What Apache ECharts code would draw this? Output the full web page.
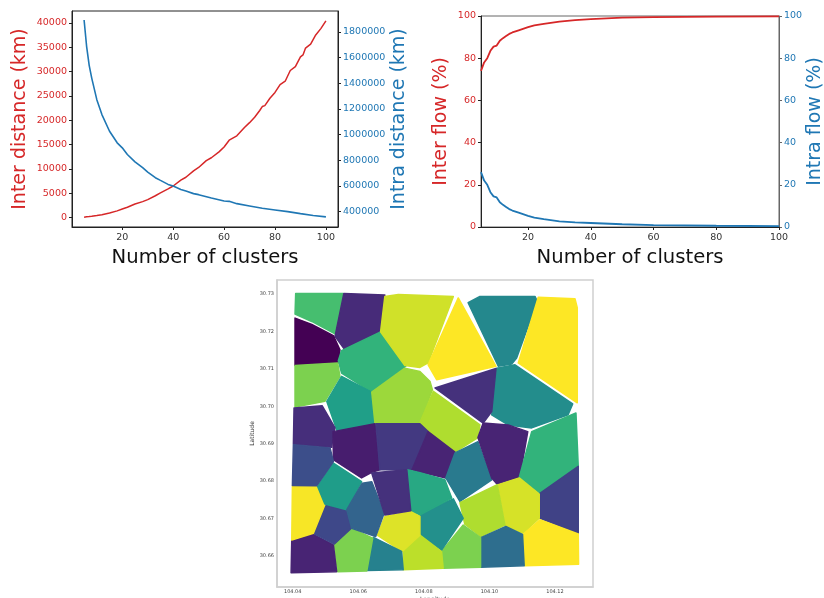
<!DOCTYPE html>
<html><head><meta charset="utf-8">
<script src="https://cdn.jsdelivr.net/npm/echarts@6/dist/echarts.min.js"></script>
<style>html,body{margin:0;padding:0;background:#fff}#c{width:824px;height:598px}</style></head>
<body><div id="c"></div>
<script>
const distClusters=[5,6,7,8,10,12,15,18,20,22,25,28,30,33,35,38,40,43,45,48,50,53,55,58,60,62,65,68,70,72,74,75,76,78,80,82,84,86,88,90,91,92,94,96,98,100];
const interDistance=[100,170,220,280,430,620,950,1400,1770,2130,2800,3300,3700,4500,5100,5900,6500,7700,8300,9600,10300,11700,12300,13500,14500,15900,16800,18500,19500,20600,22000,22800,23000,24500,25700,27300,28000,30200,31000,33000,33400,34800,35600,37500,38800,40400];
const intraClusters=[5,6,7,8,10,12,15,18,20,22,25,28,30,33,35,38,40,43,45,48,50,55,60,62,65,70,75,80,85,90,95,100];
const intraDistance=[1893000,1686000,1540000,1440000,1272000,1156000,1026000,936000,897000,845000,788000,742000,708000,664000,643000,612000,599000,573000,560000,540000,532000,506000,483000,480000,462000,444000,426000,413000,400000,384000,369000,359000];
const flowClusters=[5,6,7,8,9,10,11,12,13,14,15,17,20,22,25,30,35,40,50,60,80,100];
const interFlow=[74,78,80,83.5,85.5,86,88.3,89.5,90.5,91.5,92.2,93.2,94.7,95.6,96.3,97.3,98,98.5,99.2,99.5,99.7,99.8];
const intraFlow=[26,22,20,16.5,14.5,14,11.7,10.5,9.5,8.5,7.8,6.8,5.3,4.4,3.7,2.7,2.2,1.9,1.3,0.9,0.6,0.45];
const clusterTicks=[20,40,60,80,100];
const interDistanceTicks=[0,5000,10000,15000,20000,25000,30000,35000,40000];
const intraDistanceTicks=[400000,600000,800000,1000000,1200000,1400000,1600000,1800000];
const flowTicks=[0,20,40,60,80,100];
const lonTicks=[104.04,104.06,104.08,104.10,104.12];
const latTicks=[30.66,30.67,30.68,30.69,30.70,30.71,30.72,30.73];
const cellValues=[0.7,0.12,0,0.65,0.8,0.56,0.13,0.93,1,0.47,1,0.49,0.14,0.85,0.88,0.08,0.17,0.10,0.41,0.10,0.65,0.2,0.94,0.88,1,0.36,0.8,0.5,0.6,0.9,0.95,0.44,0.8,0.1,0.22,0.99,0.55,0.24,0.32,0.14];
const cellPolygons=[
[[104.0409,30.7302],[104.0554,30.7302],[104.0529,30.7194],[104.0458,30.7227],[104.0407,30.7247]],
[[104.0556,30.7302],[104.0681,30.7298],[104.0668,30.7199],[104.0559,30.7151],[104.0529,30.7187]],
[[104.0407,30.7236],[104.0458,30.7219],[104.0524,30.7189],[104.0544,30.7151],[104.0539,30.7116],[104.0407,30.7109]],
[[104.0668,30.7199],[104.0745,30.7107],[104.0641,30.7038],[104.0549,30.7089],[104.0539,30.7122],[104.0549,30.7149]],
[[104.0407,30.7109],[104.0537,30.7116],[104.0544,30.7080],[104.0498,30.7013],[104.0407,30.6998]],
[[104.0549,30.7080],[104.0641,30.7038],[104.0651,30.6950],[104.0539,30.6925],[104.0504,30.7013]],
[[104.0404,30.6995],[104.0490,30.7001],[104.0529,30.6942],[104.0521,30.6906],[104.0519,30.6890],[104.0402,30.6899]],
[[104.0681,30.7294],[104.0722,30.7299],[104.0890,30.7294],[104.0813,30.7116],[104.0788,30.7104],[104.0742,30.7109],[104.0668,30.7199]],
[[104.0905,30.7290],[104.1020,30.7107],[104.0839,30.7071],[104.0813,30.7111]],
[[104.0935,30.7277],[104.0971,30.7294],[104.1139,30.7294],[104.1146,30.7281],[104.1083,30.7129],[104.1068,30.7113],[104.1027,30.7107]],
[[104.1149,30.7292],[104.1261,30.7288],[104.1268,30.7264],[104.1268,30.7009],[104.1088,30.7116]],
[[104.1078,30.7111],[104.1254,30.7006],[104.1240,30.6977],[104.1129,30.6942],[104.1057,30.6950],[104.1007,30.6977],[104.1022,30.7102]],
[[104.0834,30.7049],[104.1020,30.7101],[104.1007,30.6986],[104.0981,30.6955]],
[[104.0641,30.7038],[104.0742,30.7102],[104.0788,30.7093],[104.0819,30.7066],[104.0826,30.7044],[104.0788,30.6955],[104.0651,30.6953]],
[[104.0829,30.7040],[104.0971,30.6950],[104.0965,30.6916],[104.0895,30.6877],[104.0813,30.6932],[104.0788,30.6956]],
[[104.0523,30.6932],[104.0651,30.6953],[104.0666,30.6830],[104.0641,30.6823],[104.0610,30.6808],[104.0524,30.6857]],
[[104.0654,30.6953],[104.0788,30.6953],[104.0813,30.6932],[104.0764,30.6830],[104.0666,30.6830]],
[[104.0813,30.6932],[104.0895,30.6877],[104.0867,30.6808],[104.0788,30.6824],[104.0764,30.6830]],
[[104.0895,30.6875],[104.0965,30.6905],[104.1007,30.6803],[104.0910,30.6745],[104.0867,30.6808]],
[[104.0981,30.6955],[104.1057,30.6950],[104.1117,30.6932],[104.1093,30.6811],[104.1023,30.6792],[104.1007,30.6808],[104.0965,30.6916]],
[[104.1129,30.6932],[104.1264,30.6982],[104.1271,30.6839],[104.1154,30.6767],[104.1091,30.6809]],
[[104.1271,30.6839],[104.1271,30.6660],[104.1154,30.6700],[104.1154,30.6767]],
[[104.1027,30.6790],[104.1091,30.6808],[104.1152,30.6765],[104.1152,30.6700],[104.1103,30.6660],[104.1050,30.6680]],
[[104.0910,30.6742],[104.1024,30.6790],[104.1047,30.6682],[104.0974,30.6651],[104.0925,30.6684]],
[[104.1154,30.6696],[104.1271,30.6658],[104.1272,30.6577],[104.1108,30.6573],[104.1103,30.6657]],
[[104.0974,30.6648],[104.1050,30.6678],[104.1101,30.6657],[104.1106,30.6573],[104.0973,30.6569]],
[[104.0854,30.6611],[104.0920,30.6682],[104.0973,30.6648],[104.0973,30.6569],[104.0859,30.6566]],
[[104.0788,30.6714],[104.0890,30.6752],[104.0920,30.6700],[104.0854,30.6615],[104.0788,30.6655]],
[[104.0749,30.6830],[104.0788,30.6822],[104.0864,30.6803],[104.0885,30.6754],[104.0788,30.6709],[104.0760,30.6718]],
[[104.0788,30.6655],[104.0854,30.6611],[104.0859,30.6566],[104.0737,30.6562],[104.0737,30.6611]],
[[104.0658,30.6655],[104.0681,30.6705],[104.0760,30.6718],[104.0788,30.6705],[104.0788,30.6655],[104.0734,30.6611]],
[[104.0646,30.6649],[104.0732,30.6611],[104.0737,30.6562],[104.0626,30.6560]],
[[104.0527,30.6629],[104.0580,30.6673],[104.0644,30.6647],[104.0626,30.6559],[104.0537,30.6557]],
[[104.0397,30.6642],[104.0463,30.6657],[104.0524,30.6629],[104.0534,30.6557],[104.0395,30.6554]],
[[104.0463,30.6660],[104.0496,30.6736],[104.0565,30.6723],[104.0578,30.6673],[104.0527,30.6631]],
[[104.0399,30.6787],[104.0476,30.6785],[104.0498,30.6736],[104.0463,30.6660],[104.0397,30.6642]],
[[104.0524,30.6848],[104.0610,30.6798],[104.0565,30.6723],[104.0498,30.6738],[104.0476,30.6785]],
[[104.0402,30.6897],[104.0514,30.6888],[104.0524,30.6852],[104.0473,30.6787],[104.0399,30.6788]],
[[104.0612,30.6794],[104.0641,30.6798],[104.0679,30.6714],[104.0653,30.6651],[104.0580,30.6673],[104.0565,30.6723]],
[[104.0641,30.6821],[104.0748,30.6830],[104.0760,30.6720],[104.0681,30.6709]]
];
const viridis=['#440154','#482878','#3e4989','#31688e','#26828e','#1f9e89','#35b779','#6ece58','#b5de2b','#fde725'];
const RED='#d62728',BLUE='#1f77b4',DARK='#333333';
const FONT='DejaVu Sans';
const zip=(a,b)=>a.map((v,i)=>[v,b[i]]);

function xAx(gridIndex,min,max,lineColor){return{
  type:'value',gridIndex,min,max,name:'Number of clusters',nameLocation:'middle',nameGap:21,
  nameTextStyle:{fontFamily:FONT,fontSize:19.6,color:'#111'},
  splitLine:{show:false},
  axisLine:{show:true,onZero:false,lineStyle:{color:lineColor,width:1}},
  axisTick:{show:true,length:3,customValues:clusterTicks,lineStyle:{color:lineColor}},
  axisLabel:{fontFamily:FONT,fontSize:9.5,color:DARK,margin:6,customValues:clusterTicks,formatter:v=>String(v)}
};}
function yAx(gridIndex,position,min,max,name,color,ticks,gap,lineColor){return{
  type:'value',gridIndex,position,min,max,name,nameLocation:'middle',nameGap:gap,
  nameTextStyle:{fontFamily:FONT,fontSize:19,color},
  splitLine:{show:false},
  axisLine:{show:true,onZero:false,lineStyle:{color:lineColor,width:1}},
  axisTick:{show:true,length:3,customValues:ticks,lineStyle:{color:lineColor}},
  axisLabel:{fontFamily:FONT,fontSize:9.5,color,margin:5,customValues:ticks,formatter:v=>String(v)}
};}
const line=(x,y,data,color,width)=>({type:'line',xAxisIndex:x,yAxisIndex:y,data,showSymbol:false,smooth:false,
  lineStyle:{color,width},itemStyle:{color},animation:false,silent:true});

const chart=echarts.init(document.getElementById('c'),null,{renderer:'canvas'});
chart.setOption({
  animation:false,backgroundColor:'#fff',
  grid:[
    {left:72,top:11,width:266,height:216,show:true,borderColor:'#222',borderWidth:1,outerBoundsMode:'none'},
    {left:481,top:16,width:298,height:211,show:true,borderColor:'#666',borderWidth:1,outerBoundsMode:'none'},
    {left:277,top:280,width:316,height:307,show:true,borderColor:'#cfcfcf',borderWidth:1.5,outerBoundsMode:'none'}
  ],
  xAxis:[
    xAx(0,0.25,104.75,'#222'),
    xAx(1,5,100,'#222'),
    {type:'value',gridIndex:2,min:104.0352,max:104.1316,name:'Longitude',nameLocation:'middle',nameGap:9,nameMoveOverlap:false,
     nameTextStyle:{fontFamily:FONT,fontSize:6,color:'#333'},splitLine:{show:false},
     axisLine:{show:true,onZero:false,lineStyle:{color:'#cfcfcf',width:1.5}},axisTick:{show:false},
     axisLabel:{fontFamily:FONT,fontSize:5,color:'#444',margin:2.5,customValues:lonTicks,formatter:v=>v.toFixed(2)}}
  ],
  yAxis:[
    yAx(0,'left',-1915,42415,'Inter distance (km)',RED,interDistanceTicks,42,'#222'),
    yAx(0,'right',280000,1963000,'Intra distance (km)',BLUE,intraDistanceTicks,51,'#222'),
    yAx(1,'left',0,100,'Inter flow (%)',RED,flowTicks,30,'#222'),
    yAx(1,'right',0,100,'Intra flow (%)',BLUE,flowTicks,26,'#666'),
    {type:'value',gridIndex:2,position:'left',min:30.6516,max:30.7338,name:'Latitude',nameLocation:'middle',nameGap:19,
     nameTextStyle:{fontFamily:FONT,fontSize:6,color:'#333'},splitLine:{show:false},
     axisLine:{show:true,onZero:false,lineStyle:{color:'#cfcfcf',width:1.5}},axisTick:{show:false},
     axisLabel:{fontFamily:FONT,fontSize:5,color:'#444',margin:3,customValues:latTicks,formatter:v=>v.toFixed(2)}}
  ],
  visualMap:{show:false,type:'continuous',seriesIndex:4,dimension:1,min:0,max:1,inRange:{color:viridis}},
  series:[
    line(0,0,zip(distClusters,interDistance),RED,1.5),
    line(0,1,zip(intraClusters,intraDistance),BLUE,1.6),
    line(1,2,zip(flowClusters,interFlow),RED,1.8),
    line(1,3,zip(flowClusters,intraFlow),BLUE,1.8),
    {type:'custom',xAxisIndex:2,yAxisIndex:4,silent:true,animation:false,clip:true,
     data:cellValues.map((v,i)=>[i,v]),
     encode:{x:-1,y:-1},
     renderItem(params,api){
       const idx=api.value(0),color=api.visual('color');
       return{type:'polygon',shape:{points:cellPolygons[idx].map(p=>api.coord(p))},
         style:{fill:color,stroke:color,lineWidth:1.5,lineJoin:'round'}};
     }}
  ]
});
</script></body></html>
